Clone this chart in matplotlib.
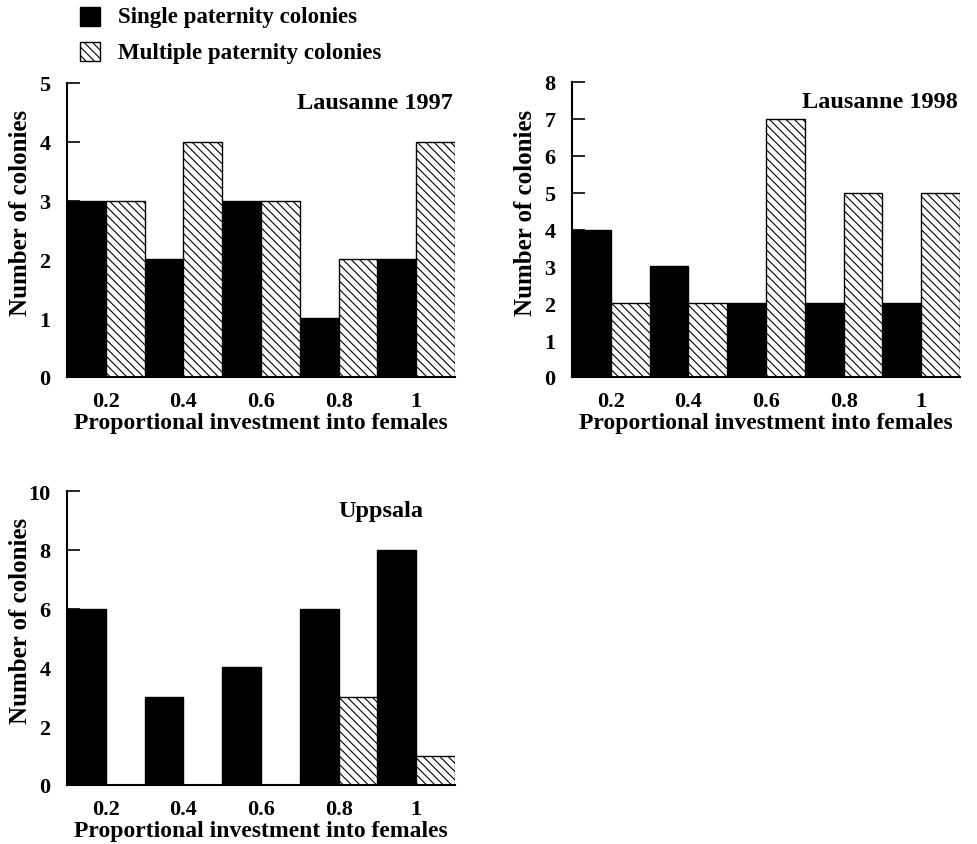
import numpy as np
import matplotlib.pyplot as plt
from matplotlib.patches import Rectangle

plt.rcParams['font.family'] = ['Liberation Serif', 'DejaVu Serif']
plt.rcParams['font.weight'] = 'bold'
plt.rcParams['hatch.linewidth'] = 0.8

bins = [0.2, 0.4, 0.6, 0.8, 1.0]
bin_labels = ['0.2', '0.4', '0.6', '0.8', '1']

single_1997 = [3, 2, 3, 1, 2]
multiple_1997 = [3, 4, 3, 2, 4]
single_1998 = [4, 3, 2, 2, 2]
multiple_1998 = [2, 2, 7, 5, 5]
single_upp = [6, 3, 4, 6, 8]
multiple_upp = [0, 0, 0, 3, 1]

W, H = 978, 845
fig = plt.figure(figsize=(W / 100, H / 100), dpi=100)


def px_axes(left, top, right, bottom):
    return fig.add_axes([left / W, 1 - bottom / H, (right - left) / W, (bottom - top) / H])


def panel(ax, single, multiple, ymax, title, title_x, title_ha):
    x = np.array(bins)
    w = 0.1
    ax.bar(x - w, single, width=w, align='edge', color='black',
           edgecolor='black', linewidth=1)
    ax.bar(x, multiple, width=w, align='edge', color='white',
           edgecolor='black', hatch='\\\\\\\\', linewidth=1)
    ax.set_xlim(0.1, 1.1)
    ax.set_ylim(0, ymax)
    ax.set_yticks(range(0, ymax + 1, 1 if ymax < 10 else 2))
    ax.set_xticks(x)
    ax.set_xticklabels(bin_labels)
    ax.spines['top'].set_visible(False)
    ax.spines['right'].set_visible(False)
    ax.spines['left'].set_linewidth(1.5)
    ax.spines['bottom'].set_linewidth(1.5)
    ax.tick_params(axis='y', direction='in', length=9, width=1.2, labelsize=16, pad=12)
    ax.tick_params(axis='x', length=0, labelsize=16, pad=10)
    ax.set_ylabel('Number of colonies', fontsize=18, fontweight='bold')
    ax.yaxis.set_label_coords(-0.09, 0.56)
    ax.set_xlabel('Proportional investment into females', fontsize=17,
                  fontweight='bold', labelpad=1)
    ax.text(title_x, 0.935, title, transform=ax.transAxes, ha=title_ha, va='center',
            fontsize=17.5, fontweight='bold')


ax1 = px_axes(67, 84, 455, 378)
panel(ax1, single_1997, multiple_1997, 5, 'Lausanne 1997', 0.995, 'right')

ax2 = px_axes(572, 83, 960, 378)
panel(ax2, single_1998, multiple_1998, 8, 'Lausanne 1998', 0.995, 'right')

ax3 = px_axes(67, 492, 455, 786)
panel(ax3, single_upp, multiple_upp, 10, 'Uppsala', 0.81, 'center')

# legend at top
fig.patches.append(Rectangle((80 / W, 1 - 27 / H), 20 / W, 19 / H, transform=fig.transFigure,
                             facecolor='black', edgecolor='black'))
fig.patches.append(Rectangle((80 / W, 1 - 62 / H), 20 / W, 19 / H, transform=fig.transFigure,
                             facecolor='white', edgecolor='black', hatch='\\\\\\\\',
                             linewidth=1))
fig.text(118 / W, 1 - 18 / H, 'Single paternity colonies', fontsize=16.5,
         fontweight='bold', va='center')
fig.text(118 / W, 1 - 53 / H, 'Multiple paternity colonies', fontsize=16.5,
         fontweight='bold', va='center')

fig.savefig('out.png', dpi=100)
